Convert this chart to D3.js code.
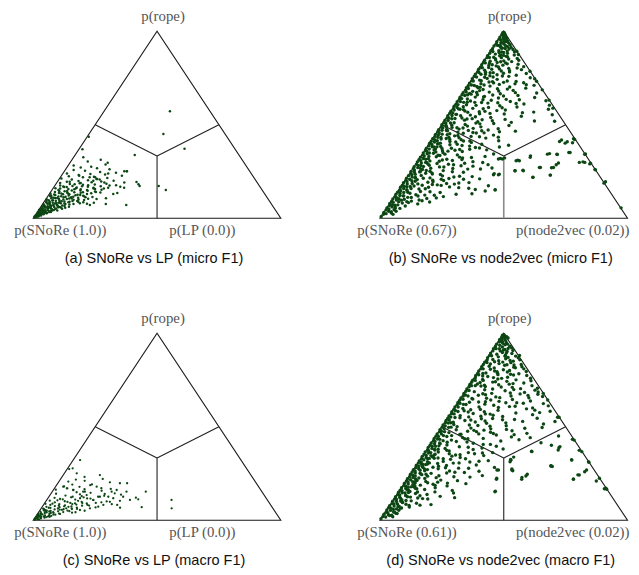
<!DOCTYPE html>
<html>
<head>
<meta charset="utf-8">
<script src="https://cdn.jsdelivr.net/npm/d3@7"></script>
<style>
  html, body { margin: 0; padding: 0; background: #fff; }
  svg { display: block; }
  .vertex { font-family: "Liberation Serif", "DejaVu Serif", serif; font-size: 14.8px; fill: #555; }
  .caption { font-family: "Liberation Sans", Arial, sans-serif; font-size: 14.5px; fill: #111; }
</style>
</head>
<body>
<svg id="chart" width="639" height="575"></svg>
<script>
// Posterior samples of the Bayesian signed-rank comparison, as [p(rope) %, p(other) %];
// p(SNoRe) is the remainder to 100.

// (a) SNoRe vs LP, micro F1
const microLP = [
  [0.4,0.2],[0.7,0.9],[0.9,0.1],[1.1,1.6],[1.3,0.6],[1.5,2.4],[1.7,1.1],[1.9,0.3],[2.1,3.1],[2.3,1.8],
  [2.5,0.8],[2.7,3.9],[2.9,2.5],[3.1,1.3],[3.3,0.2],[3.4,4.7],[3.6,3.2],[3.8,2.0],[4.0,0.7],[4.2,5.5],
  [4.3,3.8],[4.5,2.6],[4.7,1.4],[4.9,0.3],[5.0,6.4],[5.2,4.6],[5.4,3.3],[5.6,1.9],[5.8,0.8],[5.9,7.2],
  [6.1,5.4],[6.3,3.9],[6.5,2.6],[6.6,1.2],[6.8,8.3],[7.0,6.2],[7.2,4.6],[7.3,3.1],[7.5,0.4],[7.7,9.1],
  [7.8,1.8],[8.0,7.1],[8.2,5.3],[8.3,3.7],[8.5,2.3],[8.7,0.9],[8.9,10.2],[9.0,8.1],[9.2,6.0],[9.4,4.4],
  [9.5,2.9],[9.7,1.4],[9.9,11.3],[10.1,7.1],[10.2,0.3],[10.4,5.1],[10.6,9.2],[10.8,3.4],[11.0,12.6],[11.1,1.9],
  [11.3,6.6],[11.5,10.4],[11.7,4.3],[11.9,0.8],[12.1,14.1],[12.2,8.2],[12.4,2.7],[12.6,11.6],[12.8,5.6],
  [13.0,15.2],[13.1,0.4],[13.3,7.4],[13.5,3.6],[13.7,12.3],[13.9,9.6],[14.1,1.7],[14.3,17.8],[14.5,5.4],[14.7,14.6],
  [14.9,8.1],[15.1,2.6],[15.3,19.9],[15.5,11.4],[15.7,6.3],[15.9,16.4],[16.1,0.9],[16.3,22.1],[16.5,9.3],[16.7,4.1],
  [16.9,13.6],[17.1,18.7],[17.3,7.2],[17.5,2.1],[17.7,24.6],[17.9,11.1],[18.1,15.8],[18.3,5.6],[18.5,20.3],[18.7,9.4],
  [18.9,1.4],[19.1,27.2],[19.3,13.9],[19.5,3.8],[19.7,17.6],[19.9,8.3],[20.1,22.4],[20.4,11.9],[20.7,5.2],[21.0,15.3],
  [21.3,0.7],[21.6,19.1],[21.9,9.1],[22.2,13.4],[22.5,3.1],
  [22.8,24.4],[23.1,6.8],[23.4,17.3],[23.7,11.2],[24.0,1.6],[24.4,21.2],[24.8,14.6],[25.1,25.3],[25.4,8.2],[25.8,3.4],
  [26.2,17.7],[26.7,12.4],[27.1,5.6],[27.6,9.6],[28.2,2.2],[28.8,14.8],[29.7,15.2],[30.4,6.8],[31.3,11.6],[32.6,3.9],
  [33.8,24.1],[36.9,1.4],[43.6,0.6],
  [57.2,26.6],[45.1,30],[37.2,42.5],[17.3,42],[15.1,46],[7.1,34],[7.6,25.5],[19.4,32],[18.2,33.4],[17.3,34.3],
  [25.1,24.2],[25.1,25.2],[16.9,26.7],[13.5,27.2],[16.4,28.5],[13.0,25.8],[17.6,22],[16,20.5],[10.7,24],[7.8,17.8],
  [8.3,20.3],[10.3,20.4],[7.1,19.3],[8.6,15.9],[11.4,18.2],[22,14],[21,15],[11.2,15.5],[9.3,13.1],[6.2,11.3],
  [5.1,9.1],[4.2,7.6],[2.2,0.4],[3.0,0.9],[4.4,0.1],[5.3,1.1],[6.9,0.9],[1.4,0.1],[2.6,1.5],[3.7,1.1],[6.0,2.8],[7.9,2.6]
];
const microLPCore = [
  [1.8,0.7],[3.7,2.4],[0.9,1.3],[5.1,0.6],[2.6,2.2],[6.8,3.7],[4.1,1.9],[8.4,1.1],[3.1,3.4],[7.3,5.8],
  [5.7,4.2],[1.2,0.9],[9.6,3.1],[2.2,1.1],[6.2,1.8],[4.8,5.1],[10.7,1.9],[3.3,0.6],[8.1,4.8],[5.5,2.9],
  [11.8,5.4],[7.1,0.8],[2.9,4.1],[9.1,6.9],[4.5,3.6],[12.7,2.1],[6.5,6.7],[1.5,1.7],[10.3,8.4],[3.9,4.9],
  [13.6,6.9],[8.8,2.2],[5.9,3.4],[11.2,9.7],[2.4,2.9],[7.9,8.6],[14.4,3.3],[4.6,0.9],[9.9,5.5],[6.1,7.7],
  [12.3,10.9],[3.5,1.6],[15.6,8.8],[8.6,9.9],[1.0,0.5],[10.9,4.2],[5.3,6.6],[13.9,13.1],[7.6,2.7],[16.8,5.1],
  [4.2,2.7],[11.5,7.3],[2.0,2.0],[9.3,11.2],[6.9,4.6],[14.9,11.6],[12.1,1.2],[3.0,2.8],[17.7,13.3],[8.3,6.2],
  [5.8,8.3],[10.1,13.2],[15.9,2.9],[7.4,10.9],[13.2,4.7],[18.9,9.7],[4.4,6.1],[11.7,14.8],[9.4,0.6],[16.4,16.1],
  [6.4,0.4],[12.9,8.1],[3.4,5.4],[14.6,6.4],[8.9,13.7],[19.6,4.9],[10.6,10.2],[17.2,11.1],[5.6,10.1],[13.4,16.7],
  [7.7,12.4],[20.8,16.4],[11.0,2.8],[15.2,14.1],[6.6,9.3],[18.2,7.6],[9.8,15.6],[12.5,12.7],[16.1,9.2],[21.9,11.8],
  [14.0,18.3],[8.0,14.8],[19.2,19.1],[17.0,3.6],[10.5,16.9],[22.7,7.2],[13.8,20.2],[20.1,14.2],[15.7,17.1],[23.9,18.3]
];

// (b) SNoRe vs node2vec, micro F1: samples hugging the SNoRe/rope edge
const microN2vEdge = [
  [1,0],[2.2,0.3],[3.1,0],[4.5,0.2],[5.6,0],[6.8,0.4],[7.9,0],[9.1,0.2],[10.4,0],[11.5,0.3],
  [12.9,0],[14,0.1],[15.2,0.4],[16.6,0],[17.7,0.2],[19,0],[20.3,0.3],[21.4,0],[22.8,0.1],[24,0.4],
  [25.1,0],[26.5,0.2],[27.6,0],[28.9,0.3],[30.2,0],[31.3,0.1],[32.7,0],[33.9,0.4],[35,0],[36.4,0.2],
  [37.5,0],[38.8,0.3],[40.1,0],[41.2,0.1],[42.6,0],[43.8,0.3],[44.9,0],[46.3,0.2],[47.4,0],[48.7,0.4],
  [50,0],[51.1,0.2],[52.5,0],[53.7,0.3],[54.8,0],[56.2,0.1],[57.3,0],[58.6,0.4],[59.9,0],[61,0.2],
  [62.4,0],[63.6,0.3],[64.7,0],[66.1,0.1],[67.2,0],[68.5,0.3],[69.8,0],[70.9,0.2],[72.3,0],[73.5,0.4],
  [74.6,0],[76,0.1],[77.1,0],[78.4,0.3],[79.7,0],[80.8,0.2],[82.2,0],[83.4,0.1],[84.5,0],[85.9,0.3],
  [87,0],[88.3,0.2],[89.6,0],[90.7,0.1],[92.1,0],[93.3,0.3],[94.4,0],[95.8,0.2],[96.9,0],[98.2,0.1],[99.3,0],
  [2.5,1.2],[3.8,1.6],[5,1.1],[6.1,1.8],[7.3,1.3],[8.6,1],[9.8,1.7],[11,1.2],[12.2,1.9],[13.4,1.4],
  [14.7,1],[15.9,1.6],[17.1,1.2],[18.4,1.8],[19.6,1.1],[20.9,1.5],[22.1,1.9],[23.3,1.2],[24.6,1.6],[25.8,1],
  [27.1,1.7],[28.3,1.3],[29.6,1.9],[30.8,1.1],[32,1.5],[33.3,1.2],[34.5,1.8],[35.8,1],[37,1.4],[38.3,1.9],
  [39.5,1.2],[40.8,1.6],[42,1.1],[43.3,1.7],[44.6,1.3],[45.8,1],[47.1,1.5],[48.4,1.2],[49.7,1.8],[51,1.1],
  [52.3,1.4],[53.6,1],[55,1.6],[56.4,1.2],[57.9,1],[59.3,1.5],[60.8,1.1],[62.4,1.3],[64,1],[65.7,1.4],
  [67.5,1.1],[69.4,1],[71.3,1.3],[73.4,1],[75.6,1.2],[78,1],[80.5,1.1],[83.1,1],[86,1.2],[89.2,1],[92.5,1.1],[95.4,1.3],
  [3.5,2.8],[5.4,3.4],[7,2.5],[8.9,3.1],[10.5,2.4],[12,3.6],[13.8,2.7],[15.3,3.2],[16.9,2.4],[18.6,3.7],
  [20.1,2.8],[21.7,3.3],[23.5,2.5],[25,3.8],[26.7,2.9],[28.2,2.4],[29.9,3.5],[31.6,2.7],[33.1,3.2],[34.9,2.5],
  [36.5,3.6],[38.1,2.8],[39.9,3.3],[41.5,2.4],[43.2,3],[45,2.6],[46.9,3.4],[48.8,2.5],[51,3],[53.2,2.4],
  [55.6,2.9],[58.5,2.5],[62,2.8],[66,2.4],[71,2.6],[77,2.3],[84,2.5]
];

// (b) remaining samples
const microN2v = [
  [99.2,0.6],[98.4,1.3],[97.7,0.9],[97.1,2.1],[96.5,1.6],[96.2,3.1],[95.6,2.4],[95.1,3.8],[98.9,0.3],[97.4,1.7],[96.8,2.7],[95.3,1.2],[99.5,0.2],[98.1,0.5],
  [94.6,4.3],[94.1,2.8],[93.7,5.1],[93.2,3.4],[92.8,6.2],[92.3,4.6],[91.9,2.6],[91.4,7.3],[90.8,5.2],[90.3,8.6],[93.9,1.9],[92.5,1.7],[91.1,3.9],[90.5,6.9],[94.4,3.6],[91.7,5.8],
  [89.6,3.2],[89.1,9.8],[88.7,5.6],[88.2,7.4],[87.8,2.7],[87.3,10.6],[86.9,4.9],[86.4,8.3],[85.9,6.1],[85.5,12.7],[89.4,6.7],[88.6,3.8],[87.1,6.4],[86.1,2.9],[85.2,9.4],[87.6,12.1],
  [84.7,4.4],[84.2,7.9],[83.8,11.3],[83.3,5.7],[82.9,2.8],[82.4,14.6],[81.9,8.7],[81.5,6.2],[81.1,17.5],[80.6,3.6],[80.2,11.9],[84.5,13.8],[83.1,9.2],[82.1,4.3],[80.9,7.4],[80.4,15.2],
  [79.7,5.3],[79.2,2.7],[78.8,9.6],[78.3,13.2],[77.9,6.8],[77.4,20.4],[77.0,4.1],[76.5,16.8],[76.1,11.4],[75.6,7.9],[75.2,23.1],[79.5,17.4],[78.1,3.6],[76.8,8.9],[75.9,14.1],[77.6,11.1],[75.4,4.6],
  [74.8,5.9],[74.3,10.2],[73.9,3.3],[73.4,14.7],[72.9,7.6],[72.5,21.8],[72.0,4.8],[71.6,12.4],[71.1,26.7],[70.7,9.1],[70.2,17.3],[74.6,25.2],[73.1,8.9],[71.9,18.6],[70.5,3.9],[72.7,13.6],[71.3,6.4],
  [69.8,4.7],[69.3,12.8],[68.9,7.2],[68.4,19.6],[67.9,3.5],[67.5,10.4],[67.0,29.8],[66.6,15.3],[66.1,6.3],[65.7,22.9],[65.2,9.6],[69.6,24.1],[68.1,13.9],[66.8,2.8],[65.4,17.2],[67.3,5.4],[68.7,31.2],
  [64.8,6.1],[64.3,15.7],[63.8,3.4],[63.4,9.9],[62.9,35.6],[62.5,21.4],[62.0,7.3],[61.6,12.8],[61.1,27.6],[60.7,4.6],[60.2,18.3],[64.6,30.2],[63.1,13.4],[61.9,10.1],[60.5,38.2],[62.7,5.2],[61.4,24.3],[63.6,19.2],
  [59.7,3.8],[59.3,14.2],[58.8,8.1],[58.3,38.9],[57.9,21.7],[57.4,5.6],[57.0,11.6],[56.5,29.3],[56.1,16.4],[55.6,3.1],[55.2,8.9],[59.5,25.6],[58.1,4.7],[56.8,33.7],[55.9,12.3],[57.6,18.4],[55.4,41.9],[58.6,12.4],
  [54.8,5.2],[54.3,11.4],[53.9,17.8],[53.4,3.6],[52.9,24.1],[52.5,7.9],[52.0,36.4],[51.6,13.7],[51.1,4.4],[50.7,20.6],[50.2,9.3],[54.6,29.8],[53.1,8.6],[51.9,44.6],[50.5,15.1],[52.7,14.9],[51.3,27.4],[53.6,6.3],
  [49.8,4.1],[49.3,10.7],[48.9,16.3],[48.4,6.9],[47.9,23.8],[47.5,3.2],[47.0,12.2],[46.6,31.4],[46.1,8.4],[45.7,19.2],[45.2,5.6],[49.6,27.3],[48.1,13.6],[46.8,17.7],[45.5,10.9],[47.7,8.1],[46.3,25.1],[48.6,4.8],[45.9,14.6],
  [44.7,4.8],[44.3,9.3],[43.8,14.9],[43.3,6.2],[42.9,21.3],[42.4,3.5],[42.0,11.8],[41.5,27.2],[41.1,7.7],[40.6,16.6],[40.2,4.3],[44.5,23.6],[43.1,10.4],[41.9,52.4],[40.9,55.2],[40.4,57.6],[42.6,56.9],[41.3,13.1],[43.6,18.4],[42.2,7.1],[40.8,10.2],
  [39.8,3.7],[39.3,8.6],[38.9,13.7],[38.4,5.3],[37.9,19.6],[37.5,10.1],[37.0,3.9],[36.6,24.8],[36.1,7.2],[35.7,15.4],[35.2,58.7],[39.6,21.3],[38.1,29.2],[37.3,6.4],[36.4,12.1],[35.5,4.8],[38.6,16.9],[36.9,17.8],[35.9,9.5],
  [34.8,4.2],[34.3,9.1],[33.9,14.3],[33.4,44.1],[32.9,6.3],[32.5,20.7],[32.0,32.6],[31.6,11.2],[31.1,40.1],[30.7,4.8],[30.2,66.9],[34.6,51.2],[34.1,54.6],[33.1,25.9],[32.3,34.2],[31.4,17.4],[30.5,8.7],[34.4,65.8],[33.6,7.4],[31.9,3.6],[30.9,13.8],[32.7,15.8],[30.3,22.4],
  [29.8,3.9],[29.3,8.4],[28.9,13.2],[28.4,5.7],[27.9,23.6],[27.5,10.3],[27.0,55.8],[26.6,16.1],[26.1,4.1],[25.7,44.9],[25.2,7.6],[29.6,57.3],[29.1,70.2],[28.1,18.7],[27.2,51.2],[26.4,27.4],[25.9,74.1],[25.4,41.8],[28.7,29.3],[26.8,7.1],[25.5,12.8],[27.7,3.7],[29.4,19.5],
  [24.8,3.6],[24.3,8.8],[23.9,34.2],[23.4,12.7],[22.9,5.2],[22.5,20.9],[22.0,50.8],[21.6,9.4],[21.1,29.7],[20.7,4.7],[20.2,15.6],[24.6,21.4],[23.6,36.4],[23.1,57.3],[22.3,26.1],[21.3,17.2],[20.4,11.1],[24.1,6.4],[22.7,13.9],[21.8,3.4],[20.9,23.3],
  [19.8,4.3],[19.3,9.7],[18.9,22.4],[18.4,6.1],[17.9,14.2],[17.4,35.1],[17.0,3.7],[16.6,11.3],[16.1,27.8],[15.7,7.9],[15.2,38.9],[19.6,81.3],[18.6,17.6],[17.7,8.2],[16.8,19.7],[15.9,4.6],[15.4,30.8],[19.1,26.4],[18.1,12.1],
  [14.8,3.5],[14.3,9.2],[13.8,17.4],[13.4,5.4],[12.9,24.3],[12.4,11.9],[12.0,3.3],[11.6,19.8],[11.1,7.1],[10.6,13.6],[10.2,4.7],[14.6,35.2],[13.1,30.6],[11.9,9.4],
  [9.7,3.8],[9.2,8.1],[8.7,15.7],[8.2,4.9],[7.7,11.4],[7.2,3.6],[6.6,6.9],[6.1,3.1],[5.6,94.6],[5.3,5.4],[9.4,12.3],[8.4,7.3],
  [4.6,3.4],[3.8,4.6],[2.9,3.1],[2.1,4.2],
  [89.3,10.6],[78.6,21.3],[73.3,26.6],[63.2,36.7],[58.9,40.4],[42.1,57.6],[34.2,65.6],[29.5,70.3],[26.1,73.8],[18.8,81.1],
  [32.6,44.4],[34.3,50.5],[34.3,54.3],[35.2,59.2],[29.9,65.6],[29.9,67.8],[28.6,56.9],[27.2,56.5],[27.2,50.8],[25.4,45.2],
  [25.4,41.9],[30.8,39.6],[30.8,40.9],[21.9,50.8],[23.1,57.2],[41.1,52],[40.2,54.7],[23.3,34.2],[23.3,36.2],[31.7,32],[31.7,33.6],[15.3,38.9]
];
const microN2vExtra = [
  [42.7,5.4],[38.2,3.9],[33.7,6.6],[29.1,4.8],[25.6,5.9],[21.4,6.8],[17.3,5.1],[13.9,4.3],[11.2,5.6],[8.9,6.4],
  [44.1,8.1],[39.6,11.4],[35.1,7.9],[31.2,9.6],[27.4,12.1],[23.7,9.3],[19.6,11.6],[15.8,10.4],[12.6,8.2],[9.8,10.9],
  [46.8,3.9],[41.4,15.6],[36.8,13.8],[32.3,17.2],[28.6,15.4],[24.9,16.8],[20.9,14.3],[17.6,15.9],[14.2,13.1],[37.6,21.4],
  [58.3,3.2],[62.1,4.2],[66.4,3.6],[70.1,5.4],[73.6,4.1],[77.8,5.6],[81.7,3.1],[85.4,3.9],[88.9,4.7],[92.6,2.3],
  [56.7,7.1],[60.4,8.6],[64.9,9.4],[68.3,6.1],[72.4,9.7],[76.2,6.3],[79.9,8.3],[83.7,6.9],[87.3,5.2],[90.9,3.6],
  [53.3,10.6],[57.2,13.8],[61.8,16.7],[65.9,12.6],[69.1,16.9],[73.2,18.4],[78.9,12.9],[82.6,10.1],[86.6,7.7],[50.9,13.3],
  [48.3,9.4],[45.6,16.1],[52.2,19.3],[55.8,22.3],[59.1,19.8],[63.4,24.6],[67.2,21.1],[71.4,23.4],[47.2,20.1],[43.4,26.1],
  [34.4,28.7],[29.8,26.6],[26.3,22.3],[22.1,18.8],[18.3,20.9],[16.4,23.6],[12.3,15.8],[10.9,17.3],[39.1,32.4],[26.9,31.8]
];

// (c) SNoRe vs LP, macro F1
const macroLP = [
  [0.3,0.4],[0.6,1.4],[0.8,0.2],[1.0,2.6],[1.2,1.1],[1.4,3.8],[1.6,0.5],[1.8,2.3],[2.0,4.9],[2.2,1.5],
  [2.4,6.1],[2.6,3.4],[2.8,0.3],[3.0,7.4],[3.2,2.1],[3.4,4.8],[3.6,8.6],[3.8,1.2],[4.0,6.2],[4.2,3.3],
  [4.4,9.9],[4.6,0.6],[4.8,7.6],[5.0,4.5],[5.2,11.2],[5.4,2.2],[5.6,8.8],[5.8,5.7],[6.0,12.6],[6.2,0.9],
  [6.4,10.1],[6.6,3.6],[6.8,14.2],[7.0,7.1],[7.2,1.7],[7.4,11.7],[7.6,4.9],[7.8,15.8],[8.0,8.8],[8.2,2.8],
  [8.4,13.2],[8.6,6.2],[8.8,0.5],[9.0,17.1],[9.3,10.3],[9.6,3.9],[9.9,14.6],[10.2,7.6],[10.5,1.4],[10.8,18.8],
  [11.1,11.4],[11.4,5.1],[11.7,15.9],[12.0,2.6],[12.3,9.1],[12.6,20.6],[12.9,13.1],[13.2,6.4],
  [15,10],[15.3,13.2],[16.2,8.1],[17.1,5.2],[18.1,3.4],[21.1,10.2],[19.2,14.1],[24.2,14.8],[22.1,17],[20.3,20.8],
  [19.8,25.1],[19.8,28],[15.3,37.8],[15.3,30],[12.1,35.4],[11.2,36.8],[7,40.3],[10.9,50.4],[6.4,52.7],[8.2,29.8],
  [6.7,31.7],[9.9,26],[8.2,24.2],[7.3,22.6],[6.4,19.7],[5.5,16.1],[6.4,12.3],[12.6,19.9],[32.2,2.8],[27.4,0.8],
  [27.8,2],[25.1,5],[18,3.1],[17.1,5],[16.2,8],[15.3,12.5],[18,16.6],[17.2,18.9],[15.3,24],[16.2,25.6],
  [12.6,24],[11.8,26.4],[12.6,30],[10.9,33.6],[10.9,18.8],[13.5,14.8],[11.8,13],[9.1,12.3],[14.1,21.8],[13.7,28.6],
  [16.8,22.9],[9.6,22.7],[8.6,27.4],[10.4,29.8],[4.3,14.9],[5.1,18.2],[21.8,6.3],[23.2,9.1],[19.1,6.2],[14.2,2.1],
  [16.4,0.9],[20.7,3.8],[1.1,0.3],[2.1,0.8],[3.5,0.4],[2.9,1.6],[4.7,2.5],[5.9,1.4],[3.9,5.1],[1.7,1.9]
];
const macroLPCore = [
  [1.4,1.1],[2.7,0.8],[0.8,0.6],[3.9,2.7],[2.1,3.2],[5.3,1.6],[1.7,4.3],[4.4,5.8],[6.7,2.9],[3.1,6.6],
  [7.8,6.4],[2.5,5.1],[5.9,9.3],[8.9,3.3],[4.9,12.1],[9.8,8.9],[6.1,14.6],[3.4,9.1],[11.2,6.3],[7.2,10.6],
  [10.4,12.9],[5.7,7.8],[12.6,9.6],[8.3,17.7],[13.9,11.9],[9.3,20.6],[11.6,17.3],[4.1,13.6],[14.7,15.8],[6.9,21.7],
  [10.1,24.6],[12.3,14.2],[16.6,12.4],[7.9,18.6],[13.1,22.1],[15.8,19.7],[9.2,15.2],[17.9,9.7],[18.8,13.6],[14.4,25.7],
  [0.5,2.1],[1.9,5.7],[3.3,1.4],[4.7,4.1],[6.3,6.8],[2.3,0.4],[5.1,2.9],[7.5,8.7],[8.7,11.4],[10.7,4.4]
];

// (d) SNoRe vs node2vec, macro F1: samples hugging the SNoRe/rope edge
const macroN2vEdge = [
  [0.8,0],[2,0.2],[3.2,0],[4.3,0.3],[5.5,0],[6.7,0.1],[7.8,0],[9,0.4],[10.2,0],[11.4,0.2],
  [12.6,0],[13.8,0.3],[15,0],[16.1,0.1],[17.4,0],[18.6,0.4],[19.8,0],[21,0.2],[22.2,0],[23.3,0.3],
  [24.6,0],[25.8,0.1],[27,0],[28.2,0.4],[29.4,0],[30.6,0.2],[31.7,0],[33,0.3],[34.2,0],[35.4,0.1],
  [36.6,0],[37.8,0.4],[39,0],[40.1,0.2],[41.4,0],[42.6,0.3],[43.8,0],[45,0.1],[46.2,0],[47.4,0.4],
  [48.5,0],[49.8,0.2],[51,0],[52.2,0.3],[53.4,0],[54.6,0.1],[55.8,0],[57,0.4],[58.1,0],[59.4,0.2],
  [60.6,0],[61.8,0.3],[63,0],[64.2,0.1],[65.4,0],[66.5,0.4],[67.8,0],[69,0.2],[70.2,0],[71.4,0.3],
  [72.6,0],[73.8,0.1],[74.9,0],[76.2,0.4],[77.4,0],[78.6,0.2],[79.8,0],[81,0.3],[82.2,0],[83.3,0.1],
  [84.6,0],[85.8,0.4],[87,0],[88.2,0.2],[89.4,0],[90.6,0.3],[91.7,0],[93,0.1],[94.2,0],[95.4,0.4],[96.6,0],[97.8,0.2],[99,0],
  [1.8,1.4],[3,1.9],[4.1,1.1],[5.3,1.6],[6.5,1.2],[7.6,1.9],[8.8,1.3],[10,1.7],[11.1,1.1],[12.3,1.8],
  [13.5,1.2],[14.7,1.6],[15.8,1],[17,1.9],[18.2,1.3],[19.4,1.7],[20.5,1.1],[21.7,1.5],[22.9,1.9],[24.1,1.2],
  [25.3,1.6],[26.4,1],[27.6,1.8],[28.8,1.3],[30,1.7],[31.2,1.1],[32.4,1.5],[33.6,1.9],[34.8,1.2],[36,1.6],
  [37.2,1],[38.4,1.8],[39.6,1.3],[40.9,1.6],[42.2,1.1],[43.5,1.5],[44.8,1.2],[46.2,1.7],[47.6,1],[49,1.4],
  [50.5,1.1],[52,1.6],[53.6,1.2],[55.2,1],[56.9,1.5],[58.7,1.1],[60.6,1.3],[62.6,1],[64.7,1.2],[67,1],
  [69.4,1.3],[72,1],[74.8,1.1],[77.8,1],[81,1.2],[84.4,1],[88,1.1],[91.8,1],[95.6,1.2],
  [2.6,2.6],[4.4,3.3],[5.9,2.4],[7.4,3.6],[8.7,2.7],[10.3,3.2],[11.8,2.4],[13.2,3.8],[14.6,2.8],[16.2,3.4],
  [17.7,2.5],[19.1,3.7],[20.6,2.9],[22.1,3.3],[23.7,2.4],[25.2,3.6],[26.8,2.8],[28.3,3.2],[29.8,2.5],[31.4,3.5],
  [33,2.7],[34.6,3.3],[36.2,2.4],[37.9,3.1],[39.6,2.6],[41.4,3.4],[43.3,2.5],[45.3,3],[47.4,2.4],[49.7,2.9],
  [52.2,2.5],[55,2.8],[58.2,2.4],[62,2.7],[66.5,2.3],[72,2.5],[78.5,2.3],
  [3.8,4.5],[6.6,4.9],[9.5,4.3],[12.6,4.8],[15.4,4.4],[18.4,4.9],[21.3,4.3],[24.4,4.7],[27.5,4.2],[30.7,4.6],[34,4.2],[38,4.5]
];

// (d) remaining samples
const macroN2v = [
  [99.3,0.4],[98.6,1.2],[97.9,0.7],[97.2,1.9],[96.6,1.1],[96.1,2.7],[95.4,1.8],[95.0,3.6],[98.2,2.1],[97.5,3.0],
  [94.7,2.3],[94.2,4.4],[93.6,1.6],[93.1,5.9],[92.7,3.1],[92.2,7.1],[91.7,2.4],[91.3,4.8],[90.8,8.3],[90.3,6.2],[93.9,3.5],[91.9,5.8],[90.6,3.3],
  [89.7,4.6],[89.2,8.7],[88.8,2.8],[88.3,6.5],[87.8,10.9],[87.4,4.1],[86.9,12.4],[86.4,7.6],[86.0,2.6],[85.5,9.8],[89.5,6.3],[88.1,12.3],[87.1,8.2],[85.8,13.6],[85.3,5.3],
  [84.8,3.9],[84.3,10.7],[83.8,6.2],[83.3,15.4],[82.9,8.9],[82.4,2.9],[81.9,13.1],[81.5,5.4],[81.0,17.6],[80.5,9.6],[80.1,12.3],[84.6,7.3],[83.1,12.6],[82.1,16.3],[80.8,4.2],[83.6,2.8],
  [79.8,6.4],[79.3,11.8],[78.8,3.4],[78.4,16.9],[77.9,8.7],[77.4,20.6],[76.9,5.1],[76.5,13.3],[76.0,22.8],[75.6,9.8],[75.1,17.4],[79.6,19.3],[78.1,13.7],[77.2,2.9],[76.3,7.7],[75.3,3.8],[78.6,8.2],
  [74.8,4.3],[74.3,14.1],[73.9,8.6],[73.4,21.4],[72.9,2.9],[72.5,11.7],[72.0,25.4],[71.5,6.8],[71.1,17.9],[70.6,28.3],[70.2,10.4],[74.6,23.7],[73.1,17.2],[72.2,6.1],[71.3,13.3],[70.4,21.6],[73.7,3.6],
  [69.8,7.4],[69.3,15.9],[68.8,3.7],[68.4,24.2],[67.9,11.2],[67.4,30.1],[66.9,6.3],[66.5,19.7],[66.0,13.8],[65.5,27.4],[65.1,4.6],[69.6,27.8],[68.1,18.6],[67.1,9.1],[66.2,32.6],[65.3,10.4],[68.6,29.6],[67.6,22.8],
  [64.8,5.1],[64.3,12.6],[63.8,28.9],[63.3,8.2],[62.9,19.4],[62.4,34.8],[61.9,3.8],[61.5,15.2],[61.0,24.1],[60.6,9.7],[60.1,31.6],[64.6,21.2],[63.1,4.6],[62.1,11.3],[61.2,37.4],[60.3,17.7],[63.6,16.3],[62.6,26.6],
  [59.8,3.6],[59.3,10.9],[58.8,18.3],[58.3,39.6],[57.9,6.7],[57.4,26.2],[56.9,14.1],[56.5,33.4],[56.0,4.4],[55.5,21.8],[55.1,44.2],[59.6,29.4],[58.1,13.1],[57.1,9.1],[56.2,17.6],[55.3,8.2],[58.6,4.7],[57.6,35.7],[55.7,12.9],
  [54.8,4.9],[54.3,13.8],[53.8,22.6],[53.4,7.6],[52.9,31.2],[52.4,3.4],[51.9,17.1],[51.5,40.3],[51.0,10.6],[50.6,25.7],[50.1,6.1],[54.6,36.2],[53.1,15.9],[52.1,24.8],[51.2,4.2],[50.3,19.3],[53.6,9.9],[52.6,12.2],
  [49.8,3.8],[49.3,12.1],[48.9,20.3],[48.4,6.6],[47.9,29.4],[47.4,15.3],[46.9,4.4],[46.5,36.1],[46.0,9.7],[45.6,24.2],[45.1,49.6],[49.6,40.7],[48.1,13.9],[47.1,21.1],[46.2,16.8],[45.3,6.3],[48.6,26.8],[45.8,31.3],
  [44.8,4.6],[44.3,11.2],[43.8,19.8],[43.3,56.1],[42.9,7.4],[42.4,27.6],[41.9,14.2],[41.5,44.3],[41.0,3.8],[40.6,21.4],[40.1,49.2],[44.6,30.8],[43.1,34.6],[42.1,9.8],[41.2,17.1],[40.3,6.9],[43.6,13.7],[42.6,4.2],
  [39.8,3.9],[39.3,12.4],[38.8,52.9],[38.4,7.1],[37.9,18.7],[37.4,61.8],[36.9,42.8],[36.5,5.3],[36.0,23.4],[35.6,10.2],[35.1,14.8],[39.6,27.2],[38.1,30.7],[37.1,9.4],[36.2,17.6],[35.3,4.6],[38.6,21.9],[37.6,3.4],
  [34.8,4.4],[34.3,11.9],[33.8,37.1],[33.3,6.8],[32.9,18.1],[32.4,61.2],[31.9,27.8],[31.5,9.8],[31.0,68.9],[30.6,14.3],[30.1,4.1],[34.6,24.6],[33.1,3.4],[32.1,36.8],[31.2,20.7],[30.4,8.1],[33.6,15.6],[32.6,12.2],
  [29.8,3.6],[29.3,12.2],[28.8,55.2],[28.4,7.2],[27.9,17.8],[27.4,39.6],[26.9,33.8],[26.5,4.8],[26.0,69.7],[25.6,21.3],[25.1,8.1],[29.6,24.1],[28.1,12.4],[27.1,5.6],[26.2,26.9],[25.3,14.3],[28.6,2.9],[27.6,9.7],
  [24.8,4.1],[24.3,67.8],[23.8,11.9],[23.3,18.2],[22.9,45.9],[22.4,6.9],[21.9,36.1],[21.5,13.8],[21.0,76.9],[20.6,3.9],[20.1,9.2],[24.6,47.2],[23.1,24.8],[22.1,67.1],[21.2,20.7],[20.4,13.1],[23.6,7.4],[22.6,4.4],
  [19.8,4.2],[19.3,11.8],[18.8,6.9],[18.4,17.9],[17.9,3.6],[17.4,13.6],[16.9,82.2],[16.5,9.8],[16.0,21.2],[15.6,38.8],[15.1,7.6],[19.6,24.9],[18.1,4.4],[17.1,5.7],[16.2,2.9],
  [14.8,4.1],[14.3,7.2],[13.8,12.1],[13.3,3.8],[12.8,17.9],[12.4,6.1],[11.9,9.3],[11.4,13.6],[10.9,3.4],[10.4,7.4],[14.6,22.4],[12.1,24.1],
  [9.6,4.3],[9.1,10.2],[8.6,6.2],[8.1,12.1],[7.6,3.9],[7.1,8.3],[6.6,5.4],[6.1,3.6],[5.4,4.9],[8.4,16.4],
  [4.4,3.6],[3.6,5.1],[2.7,3.4],[1.9,4.2],
  [36.7,43],[29,54.5],[32.2,61.4],[21.9,67.2],[24.2,68.4],[21.9,46.3],[26.9,39.8],[31.3,36.9],[15.3,38.8],[22.5,35.9],
  [26.9,34.4],[39.4,53],[32.6,36.5],[26.5,40.4],[29.2,54.5],[26.9,70],[17.1,82.7],[23.7,47.1],[37.6,53.2],
  [55.1,44.8],[42.9,57],[36.7,63.2],[31.3,68.6],[22.5,77.4],[16.6,83.3],[67.9,32],[64.3,35.6]
];
const macroN2vExtra = [
  [41.7,6.3],[37.4,8.3],[33.2,5.3],[28.9,9.2],[24.6,6.3],[20.8,8.1],[16.9,6.4],[13.1,9.6],[10.6,5.2],[7.9,7.8],
  [43.6,12.4],[39.1,16.1],[34.9,13.1],[30.7,16.6],[26.4,14.9],[22.8,11.3],[18.7,12.9],[15.2,14.6],[11.6,11.4],[36.2,27.4],
  [45.9,9.3],[40.6,24.3],[35.6,20.4],[31.6,24.2],[27.8,21.9],[23.9,29.4],[19.9,17.3],[28.3,32.1],[32.9,9.1],[25.7,17.4],
  [59.1,7.1],[63.4,10.9],[67.7,7.7],[71.8,4.9],[75.9,11.2],[79.4,7.6],[83.2,9.7],[87.7,6.7],[91.1,4.3],[56.8,16.1],
  [60.8,21.9],[65.6,15.6],[69.9,19.1],[74.1,9.6],[77.7,15.1],[81.6,13.9],[85.1,11.3],[53.9,27.4],[58.9,33.1],[62.9,23.8],
  [50.7,14.2],[48.2,17.9],[46.4,22.6],[44.2,38.6],[52.8,44.3],[49.2,33.9],[54.4,18.3],[66.8,26.4],[72.8,15.8],[47.6,11.6]
];

const ropeLabel = "p(rope)";

const panels = [
  { col: 0, row: 0, left: "p(SNoRe (1.0))", right: "p(LP (0.0))", caption: "(a) SNoRe vs LP (micro F1)", points: [microLP, microLPCore], r: 1.25, splitStroke: "#222" },
  { col: 1, row: 0, left: "p(SNoRe (0.67))", right: "p(node2vec (0.02))", caption: "(b) SNoRe vs node2vec (micro F1)", points: [microN2vEdge, microN2v, microN2vExtra], r: 1.7, splitStroke: "#8a8a8a" },
  { col: 0, row: 1, left: "p(SNoRe (1.0))", right: "p(LP (0.0))", caption: "(c) SNoRe vs LP (macro F1)", points: [macroLP, macroLPCore], r: 1.15, splitStroke: "#222" },
  { col: 1, row: 1, left: "p(SNoRe (0.61))", right: "p(node2vec (0.02))", caption: "(d) SNoRe vs node2vec (macro F1)", points: [macroN2vEdge, macroN2v, macroN2vExtra], r: 1.7, splitStroke: "#222" }
];

const colLeft = [33.3, 380];
const rowBase = [218.3, 520.3];
const triW = 247.5, triH = 187;
const dotColor = "#0c4713";

const svg = d3.select("#chart");

panels.forEach(p => {
  const x0 = colLeft[p.col], base = rowBase[p.row];
  // horizontal position along the base (0 = SNoRe corner, 100 = other corner), height = p(rope)
  const u = d3.scaleLinear().domain([0, 100]).range([x0, x0 + triW]);
  const v = d3.scaleLinear().domain([0, 100]).range([base, base - triH]);
  const px = d => u(d[1] + d[0] / 2);
  const py = d => v(d[0]);
  const line = d3.line().x(px).y(py);

  const g = svg.append("g");

  // outline of the simplex: SNoRe corner, other corner, rope corner
  g.append("path")
    .attr("d", line([[0, 0], [0, 100], [100, 0]]) + "Z")
    .attr("fill", "none").attr("stroke", "#1a1a1a").attr("stroke-width", 1.1);

  // decision regions: from the centroid to the mid-point of each side
  const centre = [100 / 3, 100 / 3];
  [[50, 0], [50, 50]].forEach(m => {
    g.append("path").attr("d", line([centre, m]))
      .attr("fill", "none").attr("stroke", "#222").attr("stroke-width", 1.1);
  });
  g.append("path").attr("d", line([centre, [0, 50]]))
    .attr("fill", "none").attr("stroke", p.splitStroke)
    .attr("stroke-width", p.splitStroke === "#222" ? 1.1 : 1.6);

  // posterior samples
  const pts = [].concat(...p.points);
  g.append("g").selectAll("circle").data(pts).join("circle")
    .attr("cx", px).attr("cy", py).attr("r", p.r)
    .attr("fill", dotColor);

  // vertex labels
  g.append("text").attr("class", "vertex")
    .attr("x", u(50) + 6).attr("y", v(100) - 10.5)
    .attr("text-anchor", "middle").text(ropeLabel);
  g.append("text").attr("class", "vertex")
    .attr("x", x0 + 27).attr("y", base + 17)
    .attr("text-anchor", "middle").text(p.left);
  g.append("text").attr("class", "vertex")
    .attr("x", x0 + 136).attr("y", base + 17)
    .attr("text-anchor", "start").text(p.right);

  // panel caption
  g.append("text").attr("class", "caption")
    .attr("x", u(50) - 3).attr("y", base + 45)
    .attr("text-anchor", "middle").text(p.caption);
});
</script>
</body>
</html>
